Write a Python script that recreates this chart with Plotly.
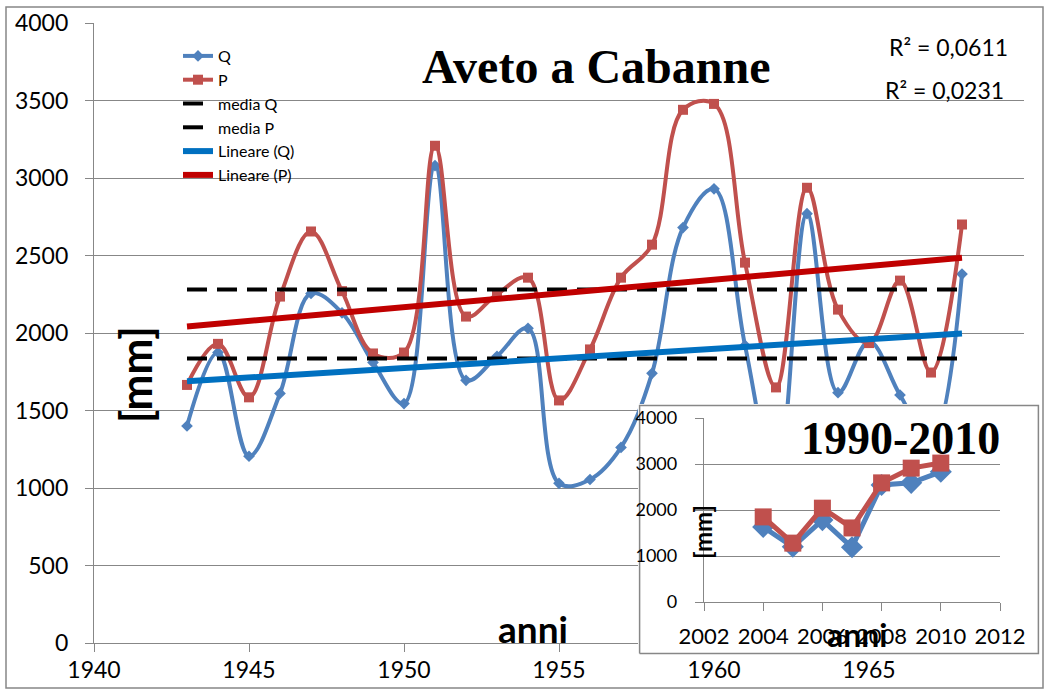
import plotly.graph_objects as go

# ---------------- data ----------------
years = list(range(1943, 1969))
Q = [1400, 1875, 1205, 1610, 2255, 2130, 1810, 1545, 3080, 1695, 1850, 2030, 1030,
     1055, 1262, 1740, 2680, 2930, 1920, 1050, 2770, 1615, 1945, 1600, 1300, 2380]
P = [1665, 1930, 1585, 2235, 2655, 2270, 1868, 1874, 3208, 2106, 2250, 2357, 1565,
     1894, 2357, 2570, 3440, 3478, 2454, 1649, 2937, 2151, 1935, 2338, 1745, 2700]
media_Q = 1836
media_P = 2280
trend_years = [1943, 1968]
trend_Q = [1688, 1997]
trend_P = [2042, 2486]
r2_labels = ["R² = 0,0611", "R² = 0,0231"]

years_in = [2004, 2005, 2006, 2007, 2008, 2009, 2010]
Q_in = [1630, 1200, 1780, 1190, 2545, 2590, 2830]
P_in = [1850, 1280, 2040, 1610, 2590, 2910, 3020]

W, H = 1049, 693
FONT = "Lato, 'Open Sans', sans-serif"
SERIF = "'Liberation Serif', 'Times New Roman', serif"
GRID = "#878787"
C_Q, C_P = "#4F81BD", "#C0504D"
C_TQ, C_TP = "#0070C0", "#C00000"


def px(x):
    return x / W


def py(y):
    return (H - y) / H


fig = go.Figure()

# main series
fig.add_trace(go.Scatter(x=years, y=Q, name="Q", mode="lines+markers",
                         line=dict(color=C_Q, width=4, shape="spline", smoothing=1.05),
                         marker=dict(symbol="diamond", size=9, color=C_Q)))
fig.add_trace(go.Scatter(x=years, y=P, name="P", mode="lines+markers",
                         line=dict(color=C_P, width=4, shape="spline", smoothing=1.05),
                         marker=dict(symbol="square", size=10, color=C_P)))
fig.add_trace(go.Scatter(x=[years[0], years[-1]], y=[media_Q, media_Q], name="media Q",
                         mode="lines", line=dict(color="black", width=4, dash="20px,10px")))
fig.add_trace(go.Scatter(x=[years[0], years[-1]], y=[media_P, media_P], name="media P",
                         mode="lines", line=dict(color="black", width=4, dash="20px,10px")))
fig.add_trace(go.Scatter(x=trend_years, y=trend_Q, name="Lineare (Q)", mode="lines",
                         line=dict(color=C_TQ, width=6)))
fig.add_trace(go.Scatter(x=trend_years, y=trend_P, name="Lineare (P)", mode="lines",
                         line=dict(color=C_TP, width=6)))

# white panel behind the inset (own subplot so it covers the main plot)
fig.add_trace(go.Scatter(x=[0, 1, 1, 0, 0], y=[0, 0, 1, 1, 0], xaxis="x2", yaxis="y2",
                         mode="lines", fill="toself", fillcolor="white",
                         line=dict(color=GRID, width=1.5), showlegend=False,
                         hoverinfo="skip"))

# inset series
fig.add_trace(go.Scatter(x=years_in, y=Q_in, xaxis="x3", yaxis="y3", mode="lines+markers",
                         line=dict(color=C_Q, width=5),
                         marker=dict(symbol="diamond", size=17, color=C_Q),
                         showlegend=False))
fig.add_trace(go.Scatter(x=years_in, y=P_in, xaxis="x3", yaxis="y3", mode="lines+markers",
                         line=dict(color=C_P, width=5),
                         marker=dict(symbol="square", size=17, color=C_P),
                         showlegend=False))

axis_common = dict(showline=True, linecolor=GRID, linewidth=1.3, ticks="outside",
                   tickcolor=GRID, ticklen=8, tickwidth=1.3, zeroline=False,
                   automargin=False,
                   tickfont=dict(family=FONT, size=23, color="black"))

fig.update_layout(
    template="none",
    width=W, height=H,
    margin=dict(l=0, r=0, t=0, b=0, pad=0, autoexpand=False),
    paper_bgcolor="white", plot_bgcolor="white",
    xaxis=dict(domain=[px(94), px(1024)], range=[1940, 1970], dtick=5, tick0=1940,
               showgrid=False, ticklabelstandoff=-2, **axis_common),
    yaxis=dict(domain=[py(643), py(23)], range=[0, 4000], dtick=500,
               showgrid=True, gridcolor=GRID, gridwidth=1.3, ticklabelstandoff=12,
               **axis_common),
    xaxis2=dict(domain=[px(638), px(1040)], range=[-0.004, 1.004], visible=False,
                fixedrange=True, automargin=False),
    yaxis2=dict(domain=[py(655), py(404)], range=[-0.006, 1.006], visible=False,
                fixedrange=True, automargin=False),
    xaxis3=dict(domain=[px(704), px(1000)], range=[2002, 2012], dtick=2, tick0=2002,
                showgrid=False, anchor="y3", ticklabelstandoff=6, automargin=False,
                showline=True, linecolor=GRID, linewidth=1.3, ticks="outside",
                tickcolor=GRID, ticklen=8, tickwidth=1.3, zeroline=False,
                tickfont=dict(family=FONT, size=22, color="black")),
    yaxis3=dict(domain=[py(602), py(418)], range=[0, 4000], dtick=1000, anchor="x3",
                showgrid=True, gridcolor=GRID, gridwidth=1.3, ticklabelstandoff=14,
                automargin=False,
                showline=True, linecolor=GRID, linewidth=1.3, ticks="outside",
                tickcolor=GRID, ticklen=8, tickwidth=1.3, zeroline=False,
                tickfont=dict(family=FONT, size=18, color="black")),
    legend=dict(x=px(178), y=py(39), xanchor="left", yanchor="top",
                bgcolor="rgba(0,0,0,0)", font=dict(family=FONT, size=16, color="black"),
                tracegroupgap=0),
    shapes=[dict(type="rect", xref="paper", yref="paper",
                 x0=px(6), x1=px(1043), y0=py(688), y1=py(7),
                 line=dict(color=GRID, width=1.5))],
    annotations=[
        dict(text="<b>Aveto a Cabanne</b>", x=px(596), y=py(66), xref="paper", yref="paper",
             showarrow=False, xanchor="center", yanchor="middle",
             font=dict(family=SERIF, size=48, color="black")),
        dict(text=r2_labels[0], x=px(948), y=py(47), xref="paper", yref="paper",
             showarrow=False, xanchor="center", yanchor="middle",
             font=dict(family=FONT, size=23, color="black")),
        dict(text=r2_labels[1], x=px(944), y=py(90), xref="paper", yref="paper",
             showarrow=False, xanchor="center", yanchor="middle",
             font=dict(family=FONT, size=23, color="black")),
        dict(text="<b>[mm]</b>", x=px(135), y=py(375), xref="paper", yref="paper",
             showarrow=False, xanchor="center", yanchor="middle", textangle=-90,
             font=dict(family=FONT, size=43, color="black")),
        dict(text="<b>anni</b>", x=px(533), y=py(628), xref="paper", yref="paper",
             showarrow=False, xanchor="center", yanchor="middle",
             font=dict(family=FONT, size=37, color="black")),
        dict(text="<b>1990-2010</b>", x=px(900), y=py(438), xref="paper", yref="paper",
             showarrow=False, xanchor="center", yanchor="middle",
             font=dict(family=SERIF, size=46, color="black")),
        dict(text="<b>[mm]</b>", x=px(702), y=py(532), xref="paper", yref="paper",
             showarrow=False, xanchor="center", yanchor="middle", textangle=-90,
             font=dict(family=FONT, size=24, color="black")),
        dict(text="<b>anni</b>", x=px(857), y=py(634), xref="paper", yref="paper",
             showarrow=False, xanchor="center", yanchor="middle",
             font=dict(family=FONT, size=32, color="black")),
    ],
)

fig.write_html("out.html",
               config={"displayModeBar": False},
               post_script="document.body.style.margin='0px';"
                           "document.body.style.overflow='hidden';")
